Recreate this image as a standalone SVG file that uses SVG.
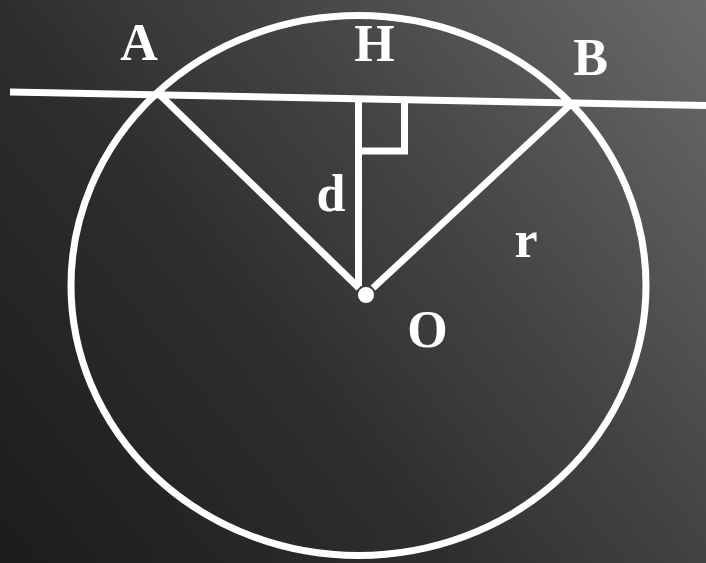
<svg xmlns="http://www.w3.org/2000/svg" width="706" height="563" viewBox="0 0 706 563">
  <defs>
    <linearGradient id="bg" gradientUnits="userSpaceOnUse" x1="0" y1="563" x2="706" y2="0">
      <stop offset="0" stop-color="#1c1c1c"/>
      <stop offset="0.39" stop-color="#2e2e2e"/>
      <stop offset="0.5" stop-color="#393939"/>
      <stop offset="0.61" stop-color="#424242"/>
      <stop offset="1" stop-color="#6a6a6a"/>
    </linearGradient>
    <style>
      .ln { stroke: #ffffff; stroke-width: 7; fill: none; }
      .lbl { font-family: "Liberation Serif", "Times New Roman", serif; font-weight: bold; font-size: 52px; fill: #ffffff; text-anchor: middle; }
    </style>
  </defs>
  <rect x="0" y="0" width="706" height="563" fill="url(#bg)"/>
  <g id="circle">
    <ellipse class="ln" cx="358.5" cy="285.5" rx="287.5" ry="270"/>
  </g>
  <g id="connectors">
    <line class="ln" x1="10" y1="92" x2="706" y2="105.5"/>
    <line class="ln" x1="160" y1="95" x2="359" y2="288"/>
    <line class="ln" x1="571" y1="104" x2="373" y2="288"/>
    <line class="ln" x1="358.5" y1="99" x2="358.5" y2="286"/>
    <polyline class="ln" points="358.5,151 404.5,151 404.5,101"/>
  </g>
  <g id="O">
    <circle cx="366" cy="295" r="8" fill="#ffffff"/>
    <text class="lbl" x="427.5" y="347">O</text>
  </g>
  <g id="A"><text class="lbl" x="139" y="60">A</text></g>
  <g id="H"><text class="lbl" x="374.5" y="60.5">H</text></g>
  <g id="B"><text class="lbl" x="590.5" y="75">B</text></g>
  <g id="d"><text class="lbl" x="331" y="211">d</text></g>
  <g id="r"><text class="lbl" x="526" y="257">r</text></g>
</svg>
